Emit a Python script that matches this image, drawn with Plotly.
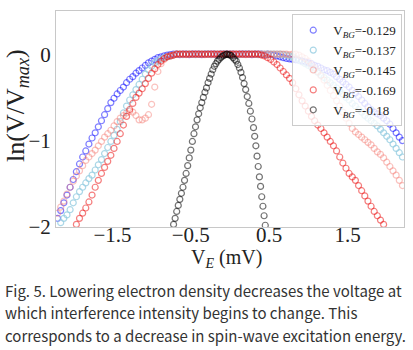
import plotly.graph_objects as go

# Common sweep of emitter bias V_E (mV)
VE = [-2.20, -2.16, -2.12, -2.08, -2.04, -2.00, -1.96, -1.92, -1.88, -1.84,
      -1.80, -1.76, -1.72, -1.68, -1.64, -1.60, -1.56, -1.52, -1.48, -1.44,
      -1.40, -1.36, -1.32, -1.28, -1.24, -1.20, -1.16, -1.12, -1.08, -1.04,
      -1.00, -0.96, -0.92, -0.88, -0.84, -0.80, -0.76, -0.72, -0.68, -0.64,
      -0.60, -0.56, -0.52, -0.48, -0.44, -0.40, -0.36, -0.32, -0.28, -0.24,
      -0.20, -0.16, -0.12, -0.08, -0.04, 0.00, 0.04, 0.08, 0.12, 0.16,
      0.20, 0.24, 0.28, 0.32, 0.36, 0.40, 0.44, 0.48, 0.52, 0.56,
      0.60, 0.64, 0.68, 0.72, 0.76, 0.80, 0.84, 0.88, 0.92, 0.96,
      1.00, 1.04, 1.08, 1.12, 1.16, 1.20, 1.24, 1.28, 1.32, 1.36,
      1.40, 1.44, 1.48, 1.52, 1.56, 1.60, 1.64, 1.68, 1.72, 1.76,
      1.80, 1.84, 1.88, 1.92, 1.96, 2.00, 2.04, 2.08, 2.12, 2.16,
      2.20]

y_129 = [-1.90, -1.81, -1.72, -1.63, -1.54, -1.45, -1.36, -1.27, -1.19, -1.12,
         -1.04, -0.97, -0.91, -0.84, -0.77, -0.70, -0.63, -0.56, -0.51, -0.46,
         -0.42, -0.38, -0.33, -0.29, -0.26, -0.22, -0.19, -0.16, -0.13, -0.10,
         -0.08, -0.06, -0.04, -0.03, -0.02, -0.01, -0.005, 0.0, 0.0, -0.005,
         0.0, 0.0, -0.005, 0.0, 0.0, 0.0, -0.005, 0.0, 0.0, 0.0,
         0.0, -0.005, 0.0, 0.0, 0.0, 0.0, 0.0, -0.005, 0.0, 0.0,
         0.0, 0.0, -0.005, 0.0, 0.0, 0.0, -0.005, 0.0, -0.005, -0.01,
         -0.02, -0.03, -0.04, -0.05, -0.055, -0.06, -0.065, -0.07, -0.08, -0.09,
         -0.10, -0.11, -0.13, -0.14, -0.16, -0.18, -0.19, -0.21, -0.23, -0.26,
         -0.29, -0.32, -0.35, -0.38, -0.42, -0.45, -0.49, -0.53, -0.57, -0.61,
         -0.64, -0.67, -0.69, -0.71, -0.74, -0.77, -0.81, -0.86, -0.91, -0.96,
         -1.00]

y_137 = [None, -1.95, -1.90, -1.86, -1.80, -1.72, -1.65, -1.59, -1.54, -1.49,
         -1.44, -1.40, -1.34, -1.28, -1.22, -1.15, -1.08, -1.01, -0.94, -0.87,
         -0.78, -0.68, -0.60, -0.53, -0.47, -0.41, -0.35, -0.29, -0.23, -0.18,
         -0.14, -0.10, -0.08, -0.06, -0.04, -0.03, -0.02, -0.01, 0.0, 0.0,
         -0.005, 0.0, 0.0, 0.0, -0.005, 0.0, 0.0, 0.0, 0.0, -0.005,
         0.0, 0.0, 0.0, 0.0, 0.0, 0.0, 0.0, 0.0, -0.005, 0.0,
         0.0, 0.0, 0.0, 0.0, -0.005, 0.0, 0.0, 0.0, 0.0, 0.0,
         0.0, 0.0, -0.005, -0.01, -0.02, -0.03, -0.05, -0.07, -0.09, -0.11,
         -0.13, -0.15, -0.18, -0.21, -0.24, -0.27, -0.30, -0.33, -0.36, -0.39,
         -0.43, -0.46, -0.50, -0.53, -0.57, -0.60, -0.64, -0.67, -0.71, -0.74,
         -0.77, -0.80, -0.83, -0.87, -0.91, -0.95, -0.99, -1.04, -1.09, -1.14,
         -1.19]

y_145 = [-1.84, -1.77, -1.70, -1.62, -1.54, -1.47, -1.41, -1.35, -1.29, -1.23,
         -1.19, -1.15, -1.11, -1.06, -1.01, -0.96, -0.92, -0.88, -0.83, -0.78,
         -0.74, -0.71, -0.68, -0.66, -0.67, -0.71, -0.76, -0.76, -0.74, -0.70,
         -0.58, -0.38, -0.20, -0.11, -0.06, -0.03, -0.02, -0.01, 0.0, 0.0,
         0.0, -0.005, 0.0, 0.0, 0.0, 0.0, 0.0, -0.005, 0.0, 0.0,
         0.0, 0.0, 0.0, 0.0, 0.0, 0.0, 0.0, 0.0, 0.0, 0.0,
         -0.005, 0.0, 0.0, 0.0, 0.0, 0.0, 0.0, 0.0, 0.0, 0.0,
         0.0, 0.0, 0.0, 0.0, -0.005, 0.0, 0.0, -0.01, -0.03, -0.05,
         -0.08, -0.12, -0.16, -0.20, -0.25, -0.30, -0.36, -0.42, -0.48, -0.54,
         -0.60, -0.67, -0.74, -0.80, -0.86, -0.90, -0.93, -0.96, -0.99, -1.02,
         -1.05, -1.09, -1.13, -1.16, -1.20, -1.25, -1.30, -1.35, -1.40, -1.46,
         -1.52]

y_169 = [None, None, None, None, None, None, -1.97, -1.90, -1.84, -1.78,
         -1.71, -1.63, -1.54, -1.46, -1.38, -1.31, -1.24, -1.17, -1.09, -1.01,
         -0.92, -0.82, -0.72, -0.64, -0.57, -0.50, -0.45, -0.40, -0.34, -0.28,
         -0.22, -0.17, -0.12, -0.08, -0.05, -0.03, -0.02, -0.01, 0.0, 0.0,
         0.0, 0.0, 0.0, 0.0, 0.0, 0.0, 0.0, 0.0, 0.0, 0.0,
         0.0, 0.0, 0.0, 0.0, 0.0, 0.0, 0.0, 0.0, 0.0, 0.0,
         0.0, 0.0, 0.0, 0.0, 0.0, -0.01, -0.02, -0.04, -0.06, -0.09,
         -0.12, -0.16, -0.20, -0.24, -0.28, -0.33, -0.40, -0.47, -0.54, -0.60,
         -0.66, -0.72, -0.77, -0.82, -0.86, -0.91, -0.96, -1.01, -1.06, -1.12,
         -1.19, -1.26, -1.32, -1.38, -1.42, -1.46, -1.52, -1.58, -1.64, -1.70,
         -1.76, -1.82, -1.87, -1.92, -1.97, None, None, None, None, None,
         None]

# V_BG = -0.18 has its own, finer sweep
VE_180 = [-0.72, -0.70, -0.68, -0.66, -0.64, -0.62, -0.60, -0.58, -0.56, -0.54,
          -0.52, -0.50, -0.48, -0.46, -0.44, -0.42, -0.40, -0.38, -0.36, -0.34,
          -0.32, -0.30, -0.28, -0.26, -0.24, -0.22, -0.20, -0.18, -0.16, -0.14,
          -0.12, -0.10, -0.08, -0.06, -0.04, -0.02, 0.00, 0.02, 0.04, 0.06,
          0.08, 0.10, 0.12, 0.14, 0.16, 0.18, 0.20, 0.22, 0.24, 0.26,
          0.28, 0.30, 0.315, 0.33, 0.345, 0.36, 0.375, 0.39, 0.405, 0.42,
          0.435, 0.45]
y_180 = [-1.97, -1.90, -1.82, -1.75, -1.68, -1.61, -1.54, -1.46, -1.38, -1.29,
         -1.20, -1.11, -1.01, -0.92, -0.84, -0.76, -0.69, -0.62, -0.56, -0.50,
         -0.44, -0.39, -0.33, -0.28, -0.23, -0.18, -0.14, -0.11, -0.08, -0.06,
         -0.04, -0.025, -0.015, -0.005, 0.0, -0.005, -0.01, -0.02, -0.04, -0.06,
         -0.08, -0.12, -0.16, -0.21, -0.27, -0.34, -0.41, -0.49, -0.57, -0.66,
         -0.75, -0.85, -0.95, -1.06, -1.18, -1.30, -1.42, -1.53, -1.65, -1.76,
         -1.87, -1.98]

labels = ["V<sub><i>BG</i></sub>=-0.129", "V<sub><i>BG</i></sub>=-0.137",
          "V<sub><i>BG</i></sub>=-0.145", "V<sub><i>BG</i></sub>=-0.169",
          "V<sub><i>BG</i></sub>=-0.18"]
colors = ["rgba(0,0,255,0.5)", "rgba(150,205,225,0.8)", "rgba(245,120,110,0.45)",
          "rgba(235,0,0,0.5)", "rgba(0,0,0,0.55)"]
xs = [VE, VE, VE, VE, VE_180]
ys = [y_129, y_137, y_145, y_169, y_180]

caption_lines = ["Fig. 5. Lowering electron density decreases the voltage at",
                 "which interference intensity begins to change. This",
                 "corresponds to a decrease in spin-wave excitation energy."]

SERIF = "Liberation Serif"
fig = go.Figure()
for x, y, name, c in zip(xs, ys, labels, colors):
    fig.add_trace(go.Scatter(
        x=x, y=y, mode="markers", name=name,
        marker=dict(symbol="circle-open", size=6, color=c,
                    line=dict(color=c, width=1.2)),
    ))

# plot area: x 56..404 px, y 11..227 px
def py(p):
    return (227 - p) / 216.0

def px(p):
    return (p - 56) / 348.0

annotations = [
    dict(text="V<sub><i>E</i></sub> (mV)", xref="paper", yref="paper",
         x=px(226), y=py(258), xanchor="center", yanchor="middle",
         showarrow=False, font=dict(family=SERIF, size=20, color="#222")),
    dict(text="ln(V/V<sub><i>max</i></sub>)", xref="paper", yref="paper",
         x=px(17), y=py(106), xanchor="center", yanchor="middle",
         textangle=-90, showarrow=False,
         font=dict(family=SERIF, size=26, color="#222")),
]
for i, line in enumerate(caption_lines):
    annotations.append(dict(
        text=line, xref="paper", yref="paper", x=px(3), y=py(290 + 22.5 * i),
        xanchor="left", yanchor="middle", align="left", showarrow=False,
        font=dict(family="Noto Sans CJK JP", size=15, color="#333")))

fig.update_layout(
    width=413, height=350,
    margin=dict(l=56, r=9, t=11, b=123),
    paper_bgcolor="white", plot_bgcolor="white",
    showlegend=True,
    legend=dict(x=0.995, xanchor="right", y=0.985, yanchor="top",
                bgcolor="rgba(255,255,255,0.8)", bordercolor="#cccccc",
                borderwidth=1, font=dict(family=SERIF, size=13, color="#222"),
                itemwidth=30, tracegroupgap=0),
    xaxis=dict(range=[-2.22, 2.22], tickvals=[-1.5, -0.5, 0.5, 1.5],
               ticktext=["\u22121.5", "\u22120.5", "0.5", "1.5"],
               showgrid=False, zeroline=False, showline=True, mirror=True,
               linecolor="#c8c8c8", linewidth=1, ticks="",
               ticklabelstandoff=-11,
               tickfont=dict(family=SERIF, size=21, color="#222")),
    yaxis=dict(range=[-2.0, 0.5], tickvals=[-2, -1, 0],
               ticktext=["\u22122", "\u22121", "0"],
               showgrid=False, zeroline=False, showline=True, mirror=True,
               linecolor="#c8c8c8", linewidth=1, ticks="",
               tickfont=dict(family=SERIF, size=21, color="#222")),
    annotations=annotations,
)

fig.write_html("out.html")
